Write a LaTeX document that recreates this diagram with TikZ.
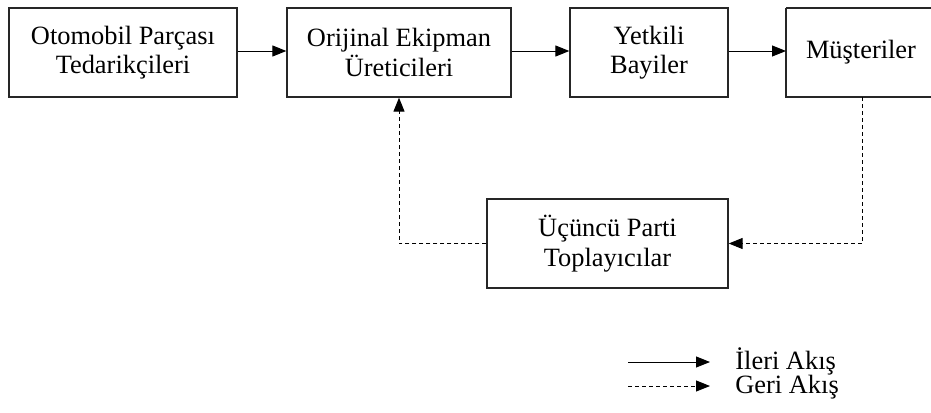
\documentclass[tikz,border=0pt]{standalone}
\usepackage{fontspec}
\setmainfont{Liberation Serif}
\usetikzlibrary{arrows.meta}
\begin{document}
\begin{tikzpicture}[x=0.5pt,y=-0.5pt,
  boxline/.style={draw=black!85,line width=0.65pt},
  box/.style={boxline,rectangle,inner sep=0pt,
    minimum height=44.5pt,align=center,
    font=\fontsize{13.2pt}{14.8pt}\selectfont},
  flow/.style={line width=0.5pt,-{Triangle[length=7pt,width=5.5pt]}},
  backflow/.style={flow,dash pattern=on 2pt off 1.5pt},
  lbl/.style={anchor=base west,inner sep=0pt,text depth=0pt,
    font=\fontsize{13.2pt}{14.8pt}\selectfont}]
\useasboundingbox (0,0) rectangle (931,412);

% supply chain, forward direction
\node[box,minimum width=114pt] (sup) at (123,52.5) {Otomobil Parçası\\Tedarikçileri};
\node[box,minimum width=112pt] (oem) at (399,52.5) {Orijinal Ekipman\\Üreticileri};
\node[box,minimum width=79pt]  (dlr) at (649,52.5) {Yetkili\\Bayiler};
% last box runs past the right edge of the page
\node[box,draw=none,outer sep=0pt,minimum width=75pt] (cus) at (861,52.5) {Müşteriler};
\draw[boxline] (cus.north west) -- ++(160,0)
  (cus.north west) -- (cus.south west) -- ++(160,0);

% reverse direction collector
\node[box,minimum width=120.5pt] (col) at (607.5,243.5) {Üçüncü Parti\\Toplayıcılar};

\draw[flow] (sup.east |- 0,51) -- (oem.west |- 0,51);
\draw[flow] (oem.east |- 0,51) -- (dlr.west |- 0,51);
\draw[flow] (dlr.east |- 0,51) -- (cus.west |- 0,51);

\draw[backflow] (cus.south -| 862,0) |- (col.east);
\draw[backflow] (col.west) -| (oem.south);

% legend
\coordinate (fwdA) at (628,362);
\coordinate (fwdB) at (710,362);
\coordinate (bckA) at (628,386);
\coordinate (bckB) at (710,386);
\draw[flow] (fwdA) -- (fwdB);
\draw[backflow] (bckA) -- (bckB);
\node[lbl] (fwdL) at (735,369) {İleri Akış};
\node[lbl] (bckL) at (735,393) {Geri Akış};
\end{tikzpicture}
\end{document}
